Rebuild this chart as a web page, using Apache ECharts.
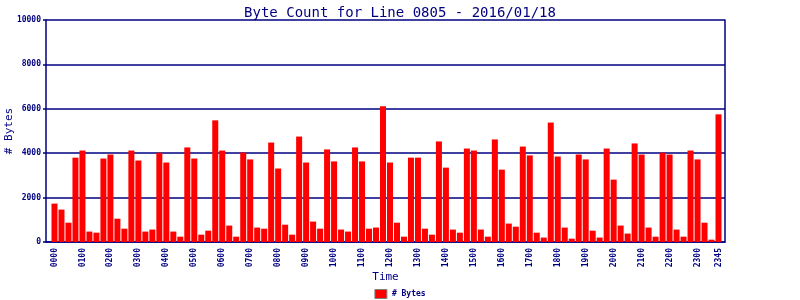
<!DOCTYPE html>
<html><head><meta charset="utf-8">
<script src="https://cdn.jsdelivr.net/npm/echarts@6/dist/echarts.min.js"></script>
<style>html,body{margin:0;padding:0;background:#fff}#c{width:800px;height:300px}</style>
</head><body><div id="c"></div>
<script>
const times = ["0000","0015","0030","0045","0100","0115","0130","0145","0200","0215","0230","0245",
"0300","0315","0330","0345","0400","0415","0430","0445","0500","0515","0530","0545",
"0600","0615","0630","0645","0700","0715","0730","0745","0800","0815","0830","0845",
"0900","0915","0930","0945","1000","1015","1030","1045","1100","1115","1130","1145",
"1200","1215","1230","1245","1300","1315","1330","1345","1400","1415","1430","1445",
"1500","1515","1530","1545","1600","1615","1630","1645","1700","1715","1730","1745",
"1800","1815","1830","1845","1900","1915","1930","1945","2000","2015","2030","2045",
"2100","2115","2130","2145","2200","2215","2230","2245","2300","2315","2330","2345"];
const bytes = [1730,1460,870,3800,4120,470,420,3760,3940,1050,600,4120,
3670,470,560,4020,3580,470,240,4260,3760,330,510,5480,
4120,740,240,4030,3720,650,600,4480,3310,780,330,4750,
3580,920,600,4170,3630,560,470,4260,3630,600,650,6110,
3580,870,240,3800,3800,600,330,4530,3350,560,420,4210,
4120,560,240,4620,3260,830,690,4300,3900,420,200,5380,
3850,650,150,3940,3720,510,200,4210,2810,740,380,4440,
3940,650,240,4020,3940,560,240,4120,3720,870,105,5750];
const yTicks = [0,2000,4000,6000,8000,10000];
const navy = '#000080';
const mono = 'DejaVu Sans Mono';

const chart = echarts.init(document.getElementById('c'));
chart.setOption({
  animation:false,
  backgroundColor:'#fff',
  title:{text:'Byte Count for Line 0805 - 2016/01/18',left:'center',top:1,
    textStyle:{fontFamily:mono,fontSize:14,fontWeight:'normal',color:navy}},
  legend:{data:['# Bytes'],bottom:1,left:'center',padding:0,itemWidth:12,itemHeight:9,itemGap:4,
    icon:'rect',itemStyle:{borderColor:'#808080',borderWidth:1},
    textStyle:{fontFamily:mono,fontSize:8,fontWeight:'bold',color:navy}},
  grid:[
    {left:46,right:75,top:20,bottom:58,outerBoundsMode:'none',containLabel:false},
    {left:51,right:78,top:20,bottom:58,outerBoundsMode:'none',containLabel:false}
  ],
  xAxis:[
    {type:'category',gridIndex:0,data:times,name:'Time',nameLocation:'middle',nameGap:30,
     nameMoveOverlap:false,
     nameTextStyle:{fontFamily:mono,fontSize:11,color:navy},
     axisLine:{show:true,lineStyle:{color:navy,width:1.5}},axisTick:{show:false},axisLabel:{show:false},splitLine:{show:false}},
    {type:'category',gridIndex:1,data:times,
     axisLine:{show:false},axisTick:{show:false},splitLine:{show:false},
     axisLabel:{rotate:90,margin:6,fontFamily:mono,fontSize:8,fontWeight:'bold',color:navy,
       interval:(i)=> i%4===0 || i===times.length-1}}
  ],
  yAxis:[
    {type:'value',gridIndex:0,min:0,max:10000,interval:2000,position:'left',
     name:'# Bytes',nameLocation:'middle',nameGap:31,nameMoveOverlap:false,
     nameTextStyle:{fontFamily:mono,fontSize:11,color:navy},
     axisLine:{show:true,lineStyle:{color:navy,width:1.5}},
     axisTick:{show:true,length:3,lineStyle:{color:navy,width:1.5}},
     axisLabel:{fontFamily:mono,fontSize:8,fontWeight:'bold',color:navy,margin:5,
       formatter:(v)=> yTicks.includes(v)? String(v):''},
     splitLine:{show:true,lineStyle:{color:navy,width:1.5}}},
    {type:'value',gridIndex:0,min:0,max:10000,position:'right',
     axisLine:{show:true,lineStyle:{color:navy,width:1.5}},axisTick:{show:false},axisLabel:{show:false},splitLine:{show:false}},
    {type:'value',gridIndex:1,min:0,max:10000,show:false}
  ],
  series:[{name:'# Bytes',type:'bar',xAxisIndex:1,yAxisIndex:2,data:bytes,barCategoryGap:'14%',
    itemStyle:{color:'#ff0000'},
    emphasis:{disabled:true}}]
});
</script></body></html>
